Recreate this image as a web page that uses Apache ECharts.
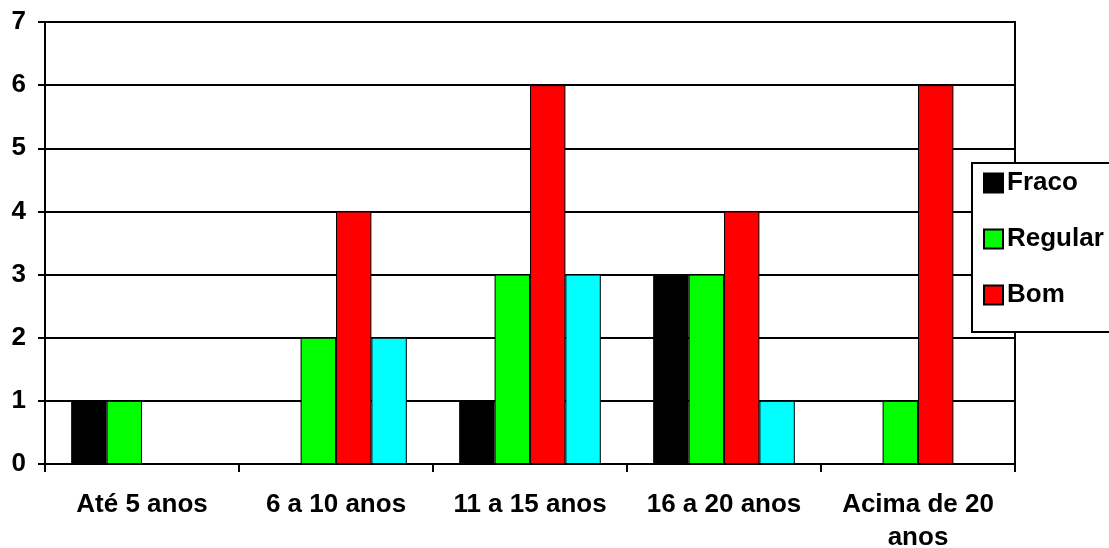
<!DOCTYPE html>
<html>
<head>
<meta charset="utf-8">
<script src="https://cdn.jsdelivr.net/npm/echarts@6/dist/echarts.min.js"></script>
<style>
  html, body { margin: 0; padding: 0; background: #ffffff; }
  #chart { width: 1109px; height: 548px; }
</style>
</head>
<body>
<div id="chart"></div>
<script>
// Faixas de tempo de serviço
const categories = ['Até 5 anos', '6 a 10 anos', '11 a 15 anos', '16 a 20 anos', 'Acima de 20\nanos'];

// Contagens por avaliação
const fraco   = [1, 0, 1, 3, 0];
const regular = [1, 2, 3, 3, 1];
const bom     = [0, 4, 6, 4, 6];
const otimo   = [0, 2, 3, 1, 0];

const yTicks = { min: 0, max: 7, interval: 1 };

const font = 'Liberation Sans, Arial, sans-serif';

function barSeries(name, data, color) {
  return {
    name: name,
    type: 'bar',
    data: data,
    barGap: '0%',
    barCategoryGap: '27%',
    itemStyle: { color: color, borderColor: '#000000', borderWidth: 1 },
    emphasis: { disabled: true },
    animation: false
  };
}

const chart = echarts.init(document.getElementById('chart'), null, { renderer: 'canvas' });
chart.setOption({
  backgroundColor: '#ffffff',
  animation: false,
  grid: {
    left: 45, right: 94, top: 22, bottom: 84,
    outerBoundsMode: 'none',
    containLabel: false,
    show: true, borderColor: '#000000', borderWidth: 2, backgroundColor: 'transparent'
  },
  legend: {
    data: ['Fraco', 'Regular', 'Bom'],
    orient: 'vertical',
    left: 972, top: 163,
    padding: [7, 40, 24, 11],
    itemGap: 30,
    itemWidth: 19, itemHeight: 19,
    icon: 'rect',
    backgroundColor: '#ffffff',
    borderColor: '#000000', borderWidth: 2,
    textStyle: { fontFamily: font, fontSize: 26, lineHeight: 26, fontWeight: 'bold', color: '#000000', padding: [0, 0, 0, -1] },
    selectedMode: false
  },
  xAxis: {
    type: 'category',
    data: categories,
    axisLine: { lineStyle: { color: '#000000', width: 2 } },
    axisTick: { show: true, length: 8, lineStyle: { color: '#000000', width: 2 } },
    axisLabel: {
      fontFamily: font, fontSize: 26, fontWeight: 'bold', color: '#000000',
      margin: 24, lineHeight: 33, interval: 0
    },
    splitLine: { show: false }
  },
  yAxis: {
    type: 'value',
    min: yTicks.min, max: yTicks.max, interval: yTicks.interval,
    axisLine: { show: true, lineStyle: { color: '#000000', width: 2 } },
    axisTick: { show: true, length: 7, lineStyle: { color: '#000000', width: 2 } },
    axisLabel: { fontFamily: font, fontSize: 26, fontWeight: 'bold', color: '#000000', margin: 19 },
    splitLine: { show: true, lineStyle: { color: '#000000', width: 2 } }
  },
  series: [
    barSeries('Fraco', fraco, '#000000'),
    barSeries('Regular', regular, '#00ff00'),
    barSeries('Bom', bom, '#ff0000'),
    barSeries('Ótimo', otimo, '#00ffff')
  ]
});
</script>
</body>
</html>
